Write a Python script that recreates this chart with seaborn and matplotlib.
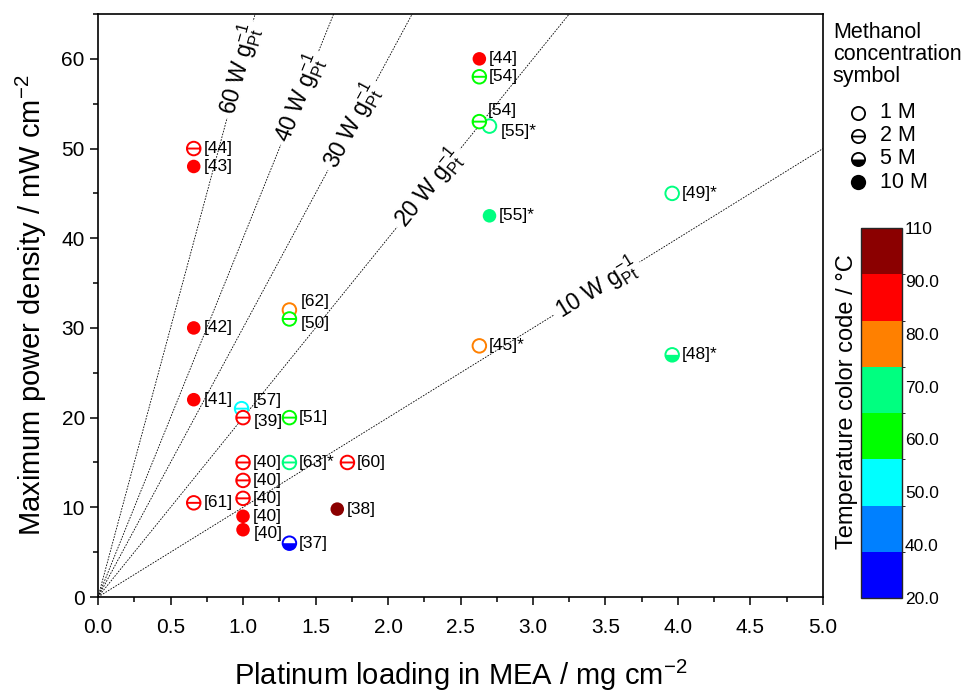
import numpy as np
import pandas as pd
import matplotlib
matplotlib.use("Agg")
import matplotlib.pyplot as plt
import seaborn as sns
from matplotlib.path import Path
from matplotlib.lines import Line2D
from matplotlib.colors import ListedColormap, BoundaryNorm
from matplotlib.cm import ScalarMappable
from matplotlib.ticker import MultipleLocator

# --- data ---
loading = [2.63, 2.63, 2.63, 2.70, 2.70, 3.96, 3.96, 2.63, 1.32, 1.32,
           0.66, 0.66, 0.66, 0.66, 0.99, 1.00, 1.32, 1.00, 1.32, 1.72,
           1.00, 1.00, 0.66, 1.00, 1.00, 1.65, 1.32]
power = [60, 58, 53, 52.5, 42.5, 45, 27, 28, 32, 31,
         50, 48, 30, 22, 21, 20, 20, 15, 15, 15,
         13, 11, 10.5, 9, 7.5, 9.8, 6]
temperature = [90, 60, 60, 70, 70, 70, 70, 80, 80, 60,
               90, 90, 90, 90, 50, 90, 60, 90, 70, 90,
               90, 90, 90, 90, 90, 110, 25]
methanol = [10, 2, 2, 1, 10, 1, 5, 1, 1, 2,
            2, 10, 10, 10, 2, 2, 2, 2, 2, 2,
            2, 2, 2, 10, 10, 10, 5]
refs = ["[44]", "[54]", "[54]", "[55]*", "[55]*", "[49]*", "[48]*", "[45]*", "[62]", "[50]",
        "[44]", "[43]", "[42]", "[41]", "[57]", "[39]", "[51]", "[40]", "[63]*", "[60]",
        "[40]", "[40]", "[61]", "[40]", "[40]", "[38]", "[37]"]

# specific power lines (W per g Pt) and where their labels sit along x
line_rates = [60, 40, 30, 20, 10]
line_label_x = [0.98, 1.39, 1.75, 2.28, 3.44]

conc_levels = [1, 2, 5, 10]
conc_labels = ["1 M", "2 M", "5 M", "10 M"]

cbar_colors = ["#0000ff", "#0080ff", "#00ffff", "#00ff00",
               "#00ff80", "#ff8000", "#ff0000", "#8b0000"]
cbar_labels = ["20.0", "40.0", "50.0", "60.0", "70.0", "80.0", "90.0", "110"]

temp_colors = {25: "#0000ff", 45: "#0080ff", 50: "#00ffff", 60: "#00ff00",
               70: "#00ff80", 80: "#ff8000", 90: "#ff0000", 110: "#8b0000"}

df = pd.DataFrame({"loading": loading, "power": power, "T": temperature,
                   "conc": methanol, "ref": refs})

# label nudges (points) where the reference moves a label off the default spot
label_nudge = {2: (6, 8), 3: (8, -4), 14: (8, 6), 15: (8, -3), 24: (8, -3),
               8: (8, 6), 9: (8, -3)}

# --- marker shapes ---
circle = Path.unit_circle()
theta = Path.make_compound_path(circle, Path([(-1, 0), (1, 0)],
                                             [Path.MOVETO, Path.LINETO]))
t = np.linspace(np.pi, 2 * np.pi, 40)
half = Path(np.column_stack([np.cos(t), np.sin(t)]).tolist() + [(-1, 0)],
            closed=True)

sns.set_style("ticks")
plt.rcParams["font.family"] = ["Liberation Sans", "DejaVu Sans"]
plt.rcParams["mathtext.fontset"] = "custom"
plt.rcParams["mathtext.rm"] = "Liberation Sans"
plt.rcParams["mathtext.it"] = "Liberation Sans"
plt.rcParams["mathtext.default"] = "regular"
plt.rcParams["text.color"] = "black"
plt.rcParams["axes.labelcolor"] = "black"
plt.rcParams["xtick.color"] = "black"
plt.rcParams["ytick.color"] = "black"

fig = plt.figure(figsize=(9.64, 6.93), dpi=100)
ax = fig.add_axes([0.1017, 0.1385, 0.752, 0.8413])
ax.set_xlim(0, 5)
ax.set_ylim(0, 65)

# dotted lines of constant specific power
xs = np.array([0, 5])
for k, lx in zip(line_rates, line_label_x):
    ax.plot(xs, k * xs, color="black", lw=0.6, ls=(0, (2, 1.5)), zorder=1)
    ax.text(lx, k * lx, f"{k} W g$^{{-1}}_{{Pt}}$", fontsize=16.5,
            rotation=np.degrees(np.arctan(k)), transform_rotates_text=True,
            rotation_mode="anchor", ha="center", va="center",
            bbox=dict(fc="white", ec="none", pad=3), zorder=2)

ms = 95
for c in conc_levels:
    sub = df[df.conc == c]
    if sub.empty:
        continue
    if c == 10:
        sns.scatterplot(data=sub, x="loading", y="power", hue="T",
                        palette=temp_colors, s=ms, marker="o", linewidth=0,
                        legend=False, ax=ax, zorder=3)
        continue
    mk = theta if c == 2 else circle
    sns.scatterplot(data=sub, x="loading", y="power", hue="T",
                    palette=temp_colors, s=ms, marker=mk, linewidth=0,
                    legend=False, ax=ax, zorder=3)
    coll = ax.collections[-1]
    fc = coll.get_facecolors()
    coll.set_edgecolors(fc)
    coll.set_facecolor("white")
    coll.set_linewidth(1.4)
    if c == 5:
        sns.scatterplot(data=sub, x="loading", y="power", hue="T",
                        palette=temp_colors, s=ms, marker=half, linewidth=0,
                        legend=False, ax=ax, zorder=4)

for i, row in df.iterrows():
    dx, dy = label_nudge.get(i, (7, 0))
    ax.annotate(row.ref, (row.loading, row.power), xytext=(dx, dy),
                textcoords="offset points", ha="left", va="center",
                fontsize=12.5, zorder=5)

ax.xaxis.set_major_locator(MultipleLocator(0.5))
ax.xaxis.set_minor_locator(MultipleLocator(0.25))
ax.yaxis.set_major_locator(MultipleLocator(10))
ax.yaxis.set_minor_locator(MultipleLocator(5))
ax.set_xticklabels([f"{v:.1f}" for v in ax.get_xticks()])
ax.tick_params(which="major", direction="out", length=6, width=1.1,
               labelsize=15, colors="black")
ax.tick_params(which="minor", direction="out", length=3.5, width=1.1)
ax.tick_params(axis="x", which="major", pad=9)
ax.tick_params(top=False, right=False)
for sp in ax.spines.values():
    sp.set_visible(True)
    sp.set_linewidth(1.2)
    sp.set_color("black")

ax.set_xlabel("Platinum loading in MEA / mg cm$^{-2}$", fontsize=21, labelpad=15)
ax.set_ylabel("Maximum power density / mW cm$^{-2}$", fontsize=21, labelpad=9)

# methanol concentration symbol key
fig.text(0.864, 0.968, "Methanol\nconcentration\nsymbol", fontsize=15.5,
         ha="left", va="top", linespacing=1.05)
key_y = [0.837, 0.804, 0.771, 0.737]
for c, lab, yk in zip(conc_levels, conc_labels, key_y):
    if c == 10:
        fig.add_artist(Line2D([0.890], [yk], marker="o", ms=11, mfc="black",
                              mec="black", mew=0, ls="none"))
    else:
        fig.add_artist(Line2D([0.890], [yk], marker=theta if c == 2 else circle,
                              ms=9.5, mfc="white", mec="black", mew=1.3, ls="none"))
        if c == 5:
            fig.add_artist(Line2D([0.890], [yk], marker=half, ms=9.5,
                                  mfc="black", mew=0, ls="none"))
    fig.text(0.913, yk, lab, fontsize=15.5, ha="left", va="center")

# temperature colour bar
cax = fig.add_axes([0.893, 0.137, 0.043, 0.534])
cmap = ListedColormap(cbar_colors)
norm = BoundaryNorm(np.arange(9), cmap.N)
cb = fig.colorbar(ScalarMappable(norm=norm, cmap=cmap), cax=cax,
                  ticks=np.linspace(0, 8, 8))
cb.set_ticklabels(cbar_labels)
cb.ax.tick_params(length=0, labelsize=12.5, pad=2)
cb.outline.set_linewidth(1.0)
cb.set_label("Temperature color code / °C", fontsize=17, labelpad=2)
cb.ax.yaxis.set_label_position("left")
cb.ax.yaxis.label.set_y(0.53)

fig.savefig("out.png", dpi=100)
